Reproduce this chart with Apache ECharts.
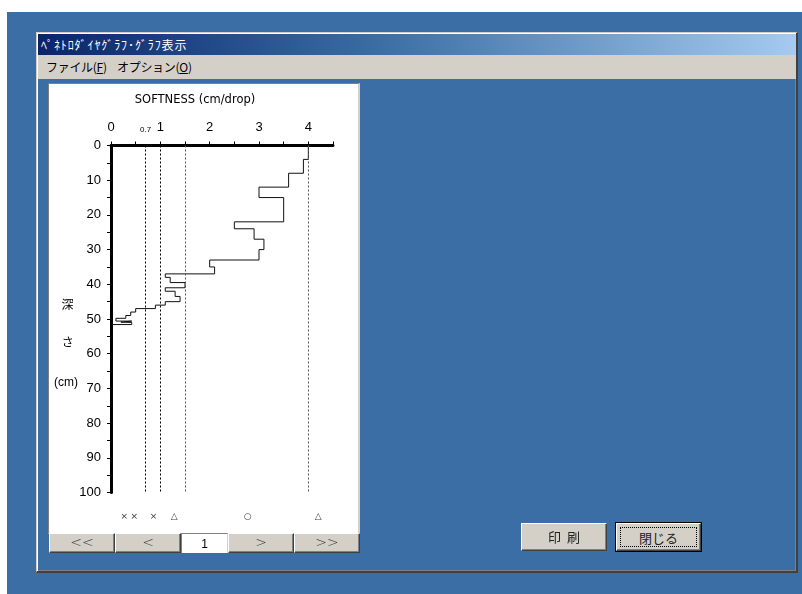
<!DOCTYPE html>
<html>
<head>
<meta charset="utf-8">
<script src="https://cdn.jsdelivr.net/npm/echarts@6/dist/echarts.min.js"></script>
<style>
  html, body { margin:0; padding:0; width:802px; height:594px; background:#fff; overflow:hidden;
    font-family:"Noto Sans CJK JP","Liberation Sans",sans-serif; }
  .abs { position:absolute; box-sizing:border-box; }
  #desk { left:7px; top:12px; width:795px; height:582px; background:#3a6ea5; }
  #win { left:36px; top:32px; width:762px; height:541px; background:#3a6ea5;
    border-top:1px solid #d4d0c8; border-left:1px solid #d4d0c8;
    border-right:2px solid #404040; border-bottom:2px solid #404040;
    box-shadow: inset 1px 1px #ffffff, inset -1px -1px #808080; }
  #title { left:38px; top:34px; width:758px; height:21px;
    background:linear-gradient(to right,#0a246a 0%,#3a6ea5 45%,#a6caf0 100%);
    color:#fff; font-size:12px; line-height:21px; padding-left:3px; letter-spacing:0.9px; }
  #menu { left:38px; top:55px; width:758px; height:24px; background:#d4d0c8;
    font-size:12px; line-height:24px; color:#000; letter-spacing:-0.3px; }
  #menu span { position:absolute; top:0; }
  #panel { left:48px; top:83px; width:312px; height:451px; background:#fff;
    border-top:1px solid #808080; border-left:1px solid #808080;
    border-right:2px solid #d4d0c8; border-bottom:1px solid #d4d0c8; }
  #chart { left:49px; top:84px; width:310px; height:449px; }
  .btn { background:#d4d0c8; border-top:1px solid #fff; border-left:1px solid #fff;
    border-right:1px solid #404040; border-bottom:1px solid #404040;
    box-shadow: inset -1px -1px #808080; text-align:center; color:#222; }
  .nav { top:533px; height:20px; font-size:14px; line-height:17px; font-family:"DejaVu Sans",sans-serif; font-weight:200; color:#333; }
  #pg { left:181px; top:533px; width:47px; height:20px; background:#fff;
    border-top:1px solid #808080; border-left:1px solid #808080; border-right:1px solid #d4d0c8;
    font-size:12px; line-height:20px; text-align:center; font-family:"Liberation Sans",sans-serif; }
  .big { font-size:13px; line-height:26px; }
</style>
</head>
<body>
<div id="desk" class="abs"></div>
<div id="win" class="abs"></div>
<div id="title" class="abs">ﾍﾟﾈﾄﾛﾀﾞｲﾔｸﾞﾗﾌ･ｸﾞﾗﾌ表示</div>
<div id="menu" class="abs"><span style="left:8px">ファイル(<u>F</u>)</span><span style="left:79px">オプション(<u>O</u>)</span></div>
<div id="panel" class="abs"></div>
<div id="chart" class="abs"></div>
<div class="abs btn nav" style="left:49px;width:66px">&lt;&lt;</div>
<div class="abs btn nav" style="left:115px;width:66px">&lt;</div>
<div id="pg" class="abs">1</div>
<div class="abs btn nav" style="left:228px;width:66px">&gt;</div>
<div class="abs btn nav" style="left:294px;width:66px">&gt;&gt;</div>
<div class="abs btn big" style="left:521px;top:523px;width:86px;height:28px">印&nbsp;&nbsp;刷</div>
<div class="abs big" style="left:615px;top:522px;width:87px;height:30px;border:1px solid #000;background:#d4d0c8;">
  <div class="abs btn" style="left:0;top:0;width:85px;height:28px;"></div>
  <div class="abs" style="left:4px;top:4px;width:77px;height:20px;border:1px dotted #000;text-align:center;line-height:19px;font-size:13px;color:#222">閉じる</div>
</div>
<script>
// ---- data ----
var depthBreaks = [0, 4, 8, 12, 15, 22, 24, 27, 30, 33, 35, 37, 38, 39.5, 41, 42, 43.5, 45, 46, 47, 48, 49, 49.8, 50.6, 50.9, 51.0, 51.6];
var softness    = [4.0, 3.9, 3.6, 3.0, 3.5, 2.5, 2.9, 3.1, 3.0, 2.0, 2.1, 1.1, 1.2, 1.5, 1.1, 1.3, 1.4, 1.1, 0.9, 0.5, 0.4, 0.3, 0.1, 0.42, 0.2, 0.42];
var endSoftness = 0.0;
var refLines = [0.7, 1, 1.5, 4];
var refColors = ['#000', '#000', '#555', '#555'];
var xLabelValues = [0, 0.7, 1, 2, 3, 4];
var markerX = [0.27, 0.47, 0.86, 1.28, 2.77, 4.2];
var markerText = ['×', '×', '×', '△', '○', '△'];
var markerDepth = 107;

var pts = [];
for (var i = 0; i < softness.length; i++) {
  pts.push([softness[i], depthBreaks[i]]);
  pts.push([softness[i], depthBreaks[i + 1]]);
}
pts.push([endSoftness, depthBreaks[depthBreaks.length - 1]]);

var markData = refLines.map(function (v, i) {
  return [{ coord: [v, 0], lineStyle: { color: refColors[i] } }, { coord: [v, 100] }];
});

var chart = echarts.init(document.getElementById('chart'));
chart.setOption({
  animation: false,
  grid: { left: 62, top: 61.5, width: 222, height: 347 },
  xAxis: {
    type: 'value', position: 'top', min: 0, max: 4.5, interval: 0.5,
    axisLine: { show: true, lineStyle: { color: '#000', width: 3 } },
    axisTick: { show: true, length: 4, lineStyle: { color: '#000', width: 1 } },
    splitLine: { show: false },
    axisLabel: {
      customValues: xLabelValues, margin: 12, color: '#000', fontSize: 13,
      fontFamily: 'Liberation Sans',
      formatter: function (v) { return Math.abs(v - 0.7) < 1e-6 ? '{s|0.7}' : String(v); },
      rich: { s: { fontSize: 8, fontFamily: 'Liberation Sans', color: '#000', padding: [3, 0, 0, 0] } }
    }
  },
  yAxis: {
    type: 'value', inverse: true, min: 0, max: 100, interval: 5,
    axisLine: { show: true, lineStyle: { color: '#000', width: 3 } },
    axisTick: { show: true, length: 4, lineStyle: { color: '#000', width: 1 } },
    splitLine: { show: false },
    axisLabel: {
      margin: 10, color: '#000', fontSize: 13, fontFamily: 'Liberation Sans',
      formatter: function (v) { return v % 10 === 0 ? String(v) : ''; }
    }
  },
  graphic: [
    { type: 'text', x: 146, y: 16, style: { text: 'SOFTNESS (cm/drop)', font: '11.5px "DejaVu Sans"', fill: '#000', align: 'center', verticalAlign: 'middle' } },
    { type: 'text', x: 18.5, y: 220, style: { text: '深', font: '12px "Noto Sans CJK JP"', fill: '#000', align: 'center', verticalAlign: 'middle' } },
    { type: 'text', x: 18.7, y: 258, style: { text: 'さ', font: '12px "Noto Sans CJK JP"', fill: '#000', align: 'center', verticalAlign: 'middle' } },
    { type: 'text', x: 17, y: 299, style: { text: '(cm)', font: '12px "Liberation Sans"', fill: '#000', align: 'center', verticalAlign: 'middle' } }
  ],
  series: [
    {
      type: 'line', data: pts, showSymbol: false, symbol: 'none',
      lineStyle: { color: '#111', width: 1 },
      markLine: { silent: true, symbol: 'none', label: { show: false },
        lineStyle: { type: [2, 2], width: 1 }, data: markData },
      z: 3
    },
    {
      type: 'scatter', clip: false, symbolSize: 0,
      data: markerX.map(function (x, i) { return { value: [x, markerDepth], label: { formatter: markerText[i] } }; }),
      label: { show: true, position: 'inside', color: '#000', fontSize: 9, fontFamily: 'DejaVu Sans' }
    }
  ]
});
</script>
</body>
</html>
